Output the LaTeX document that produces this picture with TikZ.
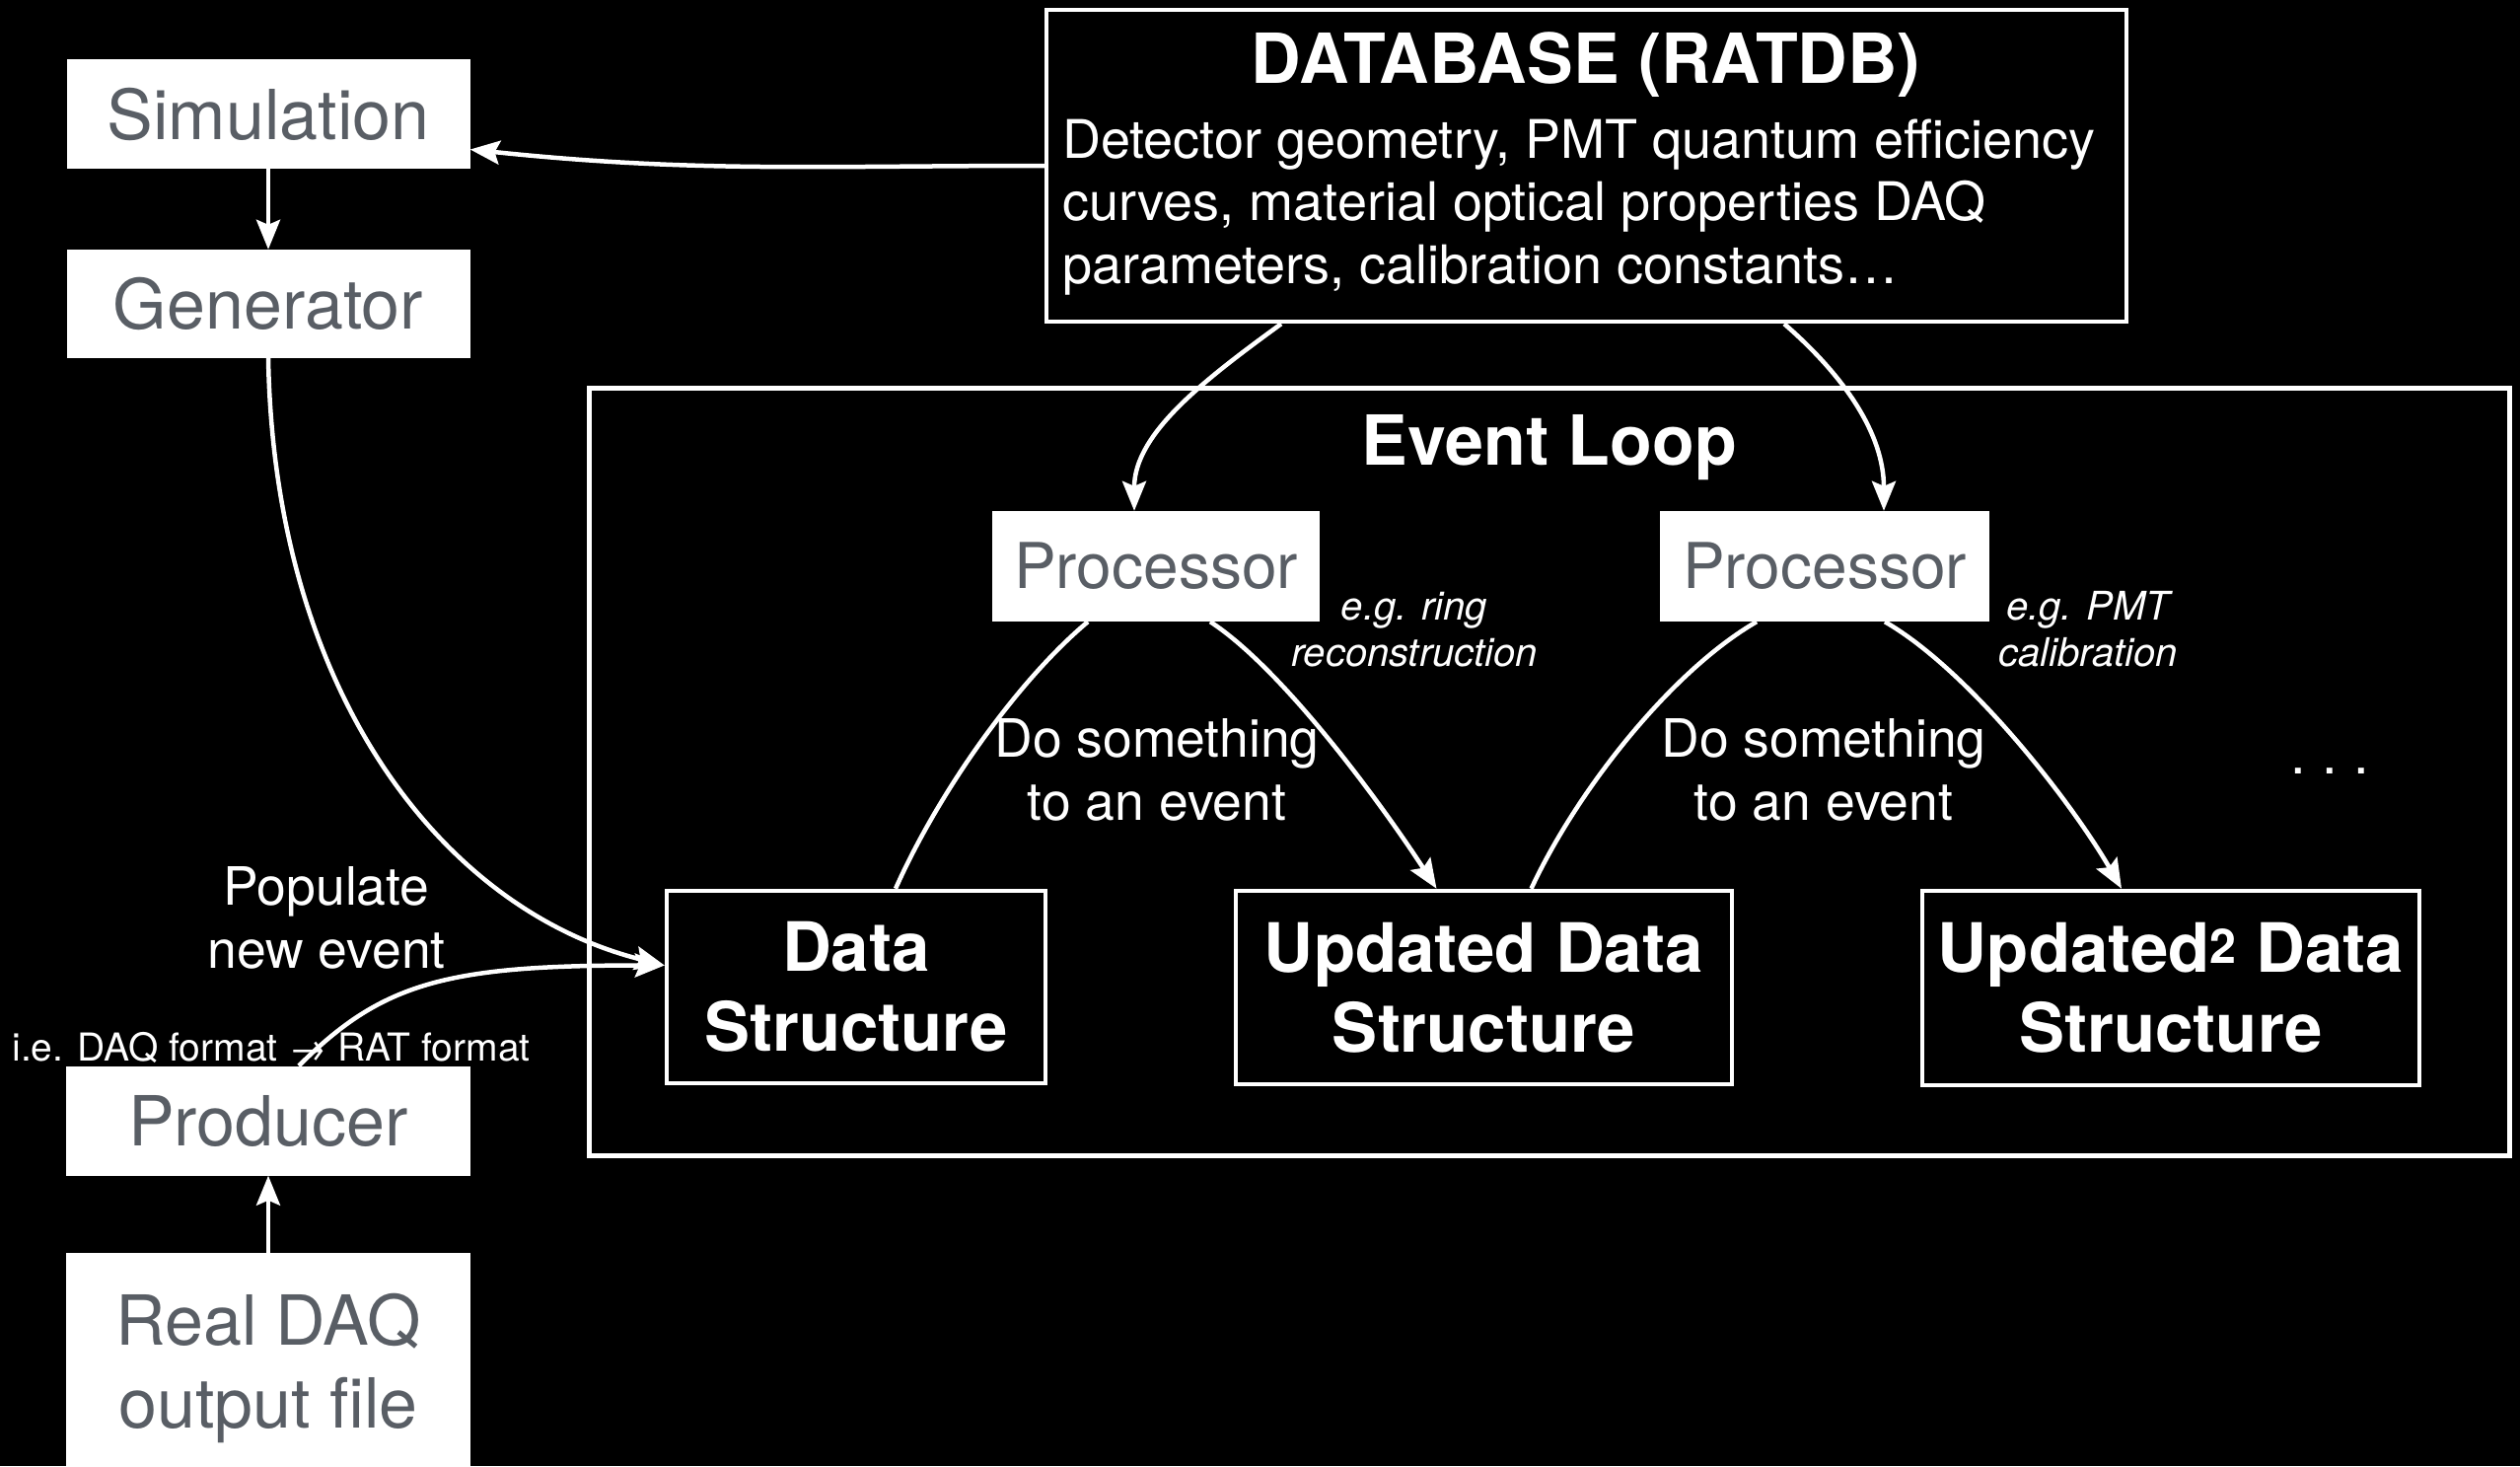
\documentclass[tikz,border=0pt]{standalone}
\usepackage{fontspec}
\setmainfont{TeX Gyre Heros}
\usetikzlibrary{arrows.meta}
\definecolor{boxgray}{RGB}{89,94,101}
\begin{document}
\begin{tikzpicture}[x=1pt,y=1pt,
  lightbox/.style={fill=white, draw=none, text=boxgray, inner sep=0pt, align=center,
    font=\fontsize{70}{84}\selectfont},
  darkbox/.style={fill=black, draw=white, line width=4.5pt, text=white, inner sep=0pt,
    align=center, font=\fontsize{69}{81}\selectfont\bfseries},
  frame/.style={draw=white, line width=4.5pt, inner sep=0pt},
  plain/.style={text=white, align=center, inner sep=0pt, font=\fontsize{53.5}{64}\selectfont},
  note/.style={text=white, align=center, inner sep=0pt, font=\fontsize{40}{47}\selectfont\itshape},
  conn/.style={draw=white, line width=4.5pt, -{Stealth[length=30pt,width=24pt,inset=5pt]}},
  leg/.style={draw=white, line width=4.5pt}
]
% page
\fill[black] (0,0) rectangle (2555,-1486);
\useasboundingbox (0,0) rectangle (2555,-1486);

% left column
\node[lightbox, minimum width=409pt, minimum height=111pt] (sim) at (272,-115.5) {Simulation};
\node[lightbox, minimum width=409pt, minimum height=110pt] (gen) at (272,-308) {Generator};
\node[lightbox, minimum width=410pt, minimum height=111pt] (prod) at (272,-1136) {Producer};
\node[lightbox, minimum width=410pt, minimum height=234pt, anchor=north] (daq) at (272,-1270)
  {Real DAQ\\output file};

% database
\node[frame, fill=black, minimum width=1095pt, minimum height=316pt] (db) at (1608.5,-168) {};
\node[text=white, inner sep=0pt, font=\fontsize{70}{80}\selectfont\bfseries] (dbtitle)
  at (1608,-66) {DATABASE (RATDB)};
\node[text=white, inner sep=0pt, align=left, anchor=base west,
  font=\fontsize{54}{63.5}\selectfont] (dbbody) at (1077,-287)
  {Detector geometry, PMT quantum efficiency\\
   curves, material optical properties DAQ\\
   parameters, calibration constants\ldots};

% event loop
\node[frame, line width=5pt, minimum width=1947pt, minimum height=778pt] (loop) at (1570.5,-782) {};
\node[text=white, inner sep=0pt, font=\fontsize{70}{80}\selectfont\bfseries] (looptitle)
  at (1571,-454) {Event Loop};

\node[lightbox, font=\fontsize{64}{80}\selectfont, minimum width=332pt, minimum height=112pt]
  (p1) at (1172,-574) {Processor};
\node[lightbox, font=\fontsize{64}{80}\selectfont, minimum width=334pt, minimum height=112pt]
  (p2) at (1850,-574) {Processor};

\node[darkbox, minimum width=384pt, minimum height=195pt] (ds) at (868,-1000.5) {Data\\Structure};
\node[darkbox, minimum width=503pt, minimum height=196pt] (upd) at (1504.5,-1001)
  {Updated Data\\Structure};
\node[darkbox, minimum width=504pt, minimum height=197pt] (upd2) at (2201,-1001.5)
  {Updated\textsuperscript{2} Data\\Structure};

% labels
\node[note] (n1) at (1434,-638) {e.g. ring\\reconstruction};
\node[note] (n2) at (2117,-638) {e.g. PMT\\calibration};
\node[plain] (do1) at (1173,-780) {Do something\\to an event};
\node[plain] (do2) at (1849,-780) {Do something\\to an event};
\node[plain] (pop) at (331,-930) {Populate\\new event};
\node[text=white, inner sep=0pt, font=\fontsize{39}{46}\selectfont] (fmt) at (275,-1062)
  {i.e. DAQ format → RAT format};
\node[text=white, inner sep=0pt, anchor=base, font=\fontsize{56}{64}\selectfont] (more)
  at (2362,-784) {.\hspace{16.5pt}.\hspace{16.5pt}.};

% connectors
\draw[conn] (db.west) to[out=180, in=-6] ([yshift=-36pt]sim.east);
\draw[conn] (sim.south) -- (gen.north);
\draw[conn] (daq.north) -- (prod.south);
\draw[conn] (gen.south) to[out=-89, in=166, out distance=337pt, in distance=233pt]
  ([yshift=22pt]ds.west);
\draw[conn] ([xshift=31pt]prod.north) to[out=45, in=180, out distance=120pt, in distance=220pt]
  ([yshift=22pt]ds.west);

\draw[conn] ([xshift=-309.5pt]db.south) to[out=-144, in=90, out distance=98pt, in distance=78pt]
  ([xshift=-22pt]p1.north);
\draw[conn] ([xshift=200.5pt]db.south) to[out=-41, in=90, out distance=81pt, in distance=78pt]
  ([xshift=60pt]p2.north);

\draw[leg] ([xshift=40pt]ds.north) to[out=66, in=-140, out distance=105pt, in distance=95pt]
  ([xshift=-69pt]p1.south);
\draw[conn] ([xshift=55pt]p1.south) to[out=-33, in=123, out distance=90pt, in distance=95pt]
  ([xshift=-48pt]upd.north);
\draw[leg] ([xshift=48pt]upd.north) to[out=65, in=-150, out distance=110pt, in distance=100pt]
  ([xshift=-69pt]p2.south);
\draw[conn] ([xshift=61pt]p2.south) to[out=-30, in=120, out distance=100pt, in distance=100pt]
  ([xshift=-50pt]upd2.north);
\end{tikzpicture}
\end{document}
